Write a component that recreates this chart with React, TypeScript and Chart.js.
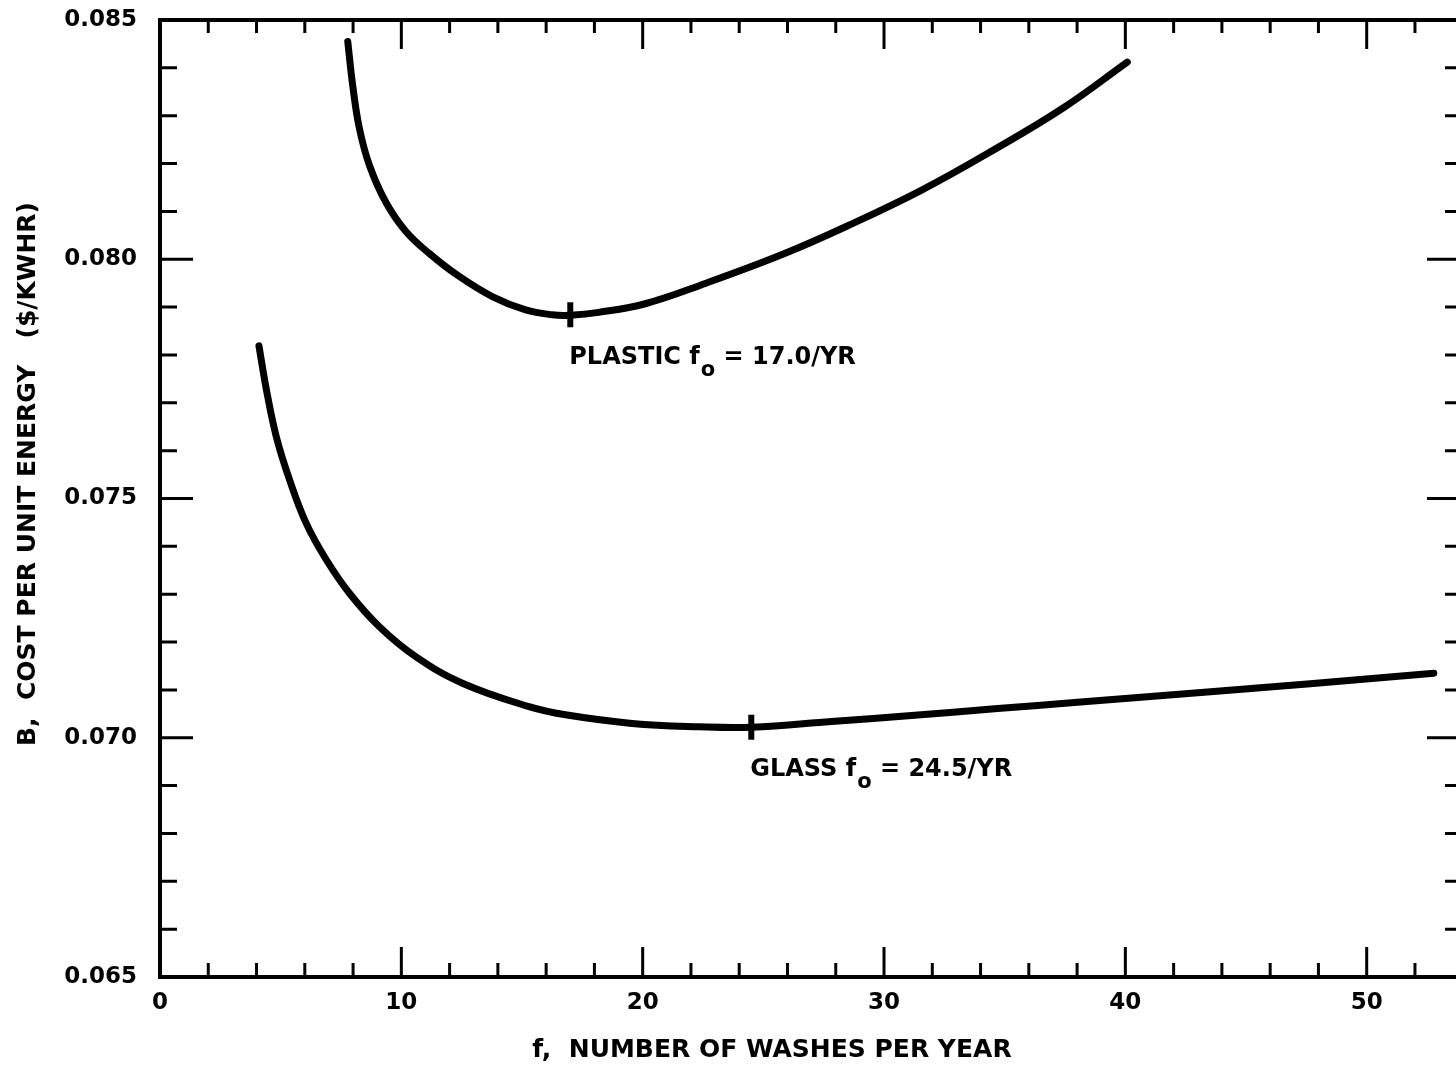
import React, { useEffect, useRef } from "react";
import { Chart, registerables } from "chart.js";

Chart.register(...registerables);

// ---- data ----
const plasticF = [7.78, 7.99, 8.26, 8.68, 9.37, 10.19, 11.16, 12.4, 13.77, 15.15, 16.25, 17.0, 18.18, 20.1, 22.62, 25.88, 28.54, 31.5, 34.46, 37.42, 40.08];
const plasticB = [0.08455, 0.08361, 0.08274, 0.08196, 0.08118, 0.08058, 0.08012, 0.07964, 0.07922, 0.07894, 0.07884, 0.07883, 0.07889, 0.07907, 0.0795, 0.08012, 0.08071, 0.08143, 0.08226, 0.08316, 0.08412];

const glassF = [4.1, 4.41, 4.82, 5.37, 6.06, 6.89, 7.85, 9.09, 10.61, 12.53, 15.29, 16.8, 19.56, 22.31, 24.5, 27.82, 31.27, 34.71, 38.02, 43.53, 47.66, 52.78];
const glassB = [0.07819, 0.07727, 0.07629, 0.07539, 0.07448, 0.07372, 0.07302, 0.07232, 0.07169, 0.07114, 0.07065, 0.07048, 0.0703, 0.07023, 0.07022, 0.07034, 0.07047, 0.07061, 0.07074, 0.07096, 0.07113, 0.07135];

const optimumNames = ["PLASTIC", "GLASS"];
const optimumF = [17.0, 24.5];
const optimumB = [0.07884, 0.07022];

const xTicks = [0, 10, 20, 30, 40, 50];
const yTicks = [0.065, 0.07, 0.075, 0.08, 0.085];
const xMin = 0;
const xMax = 53.7;
const yMin = 0.065;
const yMax = 0.085;
const xMinorStep = 2;
const yMinorStep = 0.001;

const xTitle = "f,  NUMBER OF WASHES PER YEAR";
const yTitle = "B,  COST PER UNIT ENERGY   ($/KWHR)";

const FONT = '"DejaVu Sans", "Liberation Sans", Arial, sans-serif';

const framePlugin = {
  id: "frameTicks",
  afterDatasetsDraw(chart: any) {
    const { ctx, chartArea, scales } = chart;
    const { left, right, top, bottom } = chartArea;
    const x = scales.x;
    const y = scales.y;
    ctx.save();
    ctx.strokeStyle = "#000";
    ctx.lineCap = "butt";
    ctx.lineWidth = 3;
    const nX = Math.floor((xMax - xMin) / xMinorStep + 1e-9);
    for (let i = 1; i <= nX; i++) {
      const v = xMin + i * xMinorStep;
      const px = x.getPixelForValue(v);
      const major = Math.abs(v % 10) < 1e-6;
      ctx.beginPath();
      ctx.moveTo(px, bottom);
      ctx.lineTo(px, bottom - (major ? 30 : 14));
      ctx.moveTo(px, top);
      ctx.lineTo(px, top + (major ? 29 : 13));
      ctx.stroke();
    }
    const nY = Math.round((yMax - yMin) / yMinorStep);
    for (let i = 1; i < nY; i++) {
      const v = yMin + i * yMinorStep;
      const py = y.getPixelForValue(v);
      const major = i % 5 === 0;
      ctx.beginPath();
      ctx.moveTo(left, py);
      ctx.lineTo(left + (major ? 33 : 17), py);
      ctx.moveTo(right, py);
      ctx.lineTo(right - (major ? 29 : 11), py);
      ctx.stroke();
    }
    ctx.lineWidth = 4;
    ctx.beginPath();
    ctx.moveTo(right, top);
    ctx.lineTo(left, top);
    ctx.lineTo(left, bottom);
    ctx.lineTo(right, bottom);
    ctx.stroke();
    ctx.restore();
  },
  afterDraw(chart: any) {
    const { ctx, scales, chartArea } = chart;
    const x = scales.x;
    const y = scales.y;
    ctx.save();
    ctx.fillStyle = "#000";
    ctx.font = `bold 25px ${FONT}`;
    ctx.textAlign = "center";
    ctx.textBaseline = "middle";
    ctx.fillText(xTitle, 772, chartArea.bottom + 73);
    ctx.save();
    ctx.translate(28, 474);
    ctx.rotate(-Math.PI / 2);
    ctx.fillText(yTitle, 0, 0);
    ctx.restore();
    ctx.textAlign = "left";
    ctx.textBaseline = "alphabetic";
    for (let i = 0; i < optimumNames.length; i++) {
      const x0 = x.getPixelForValue(optimumF[i]) - 1;
      const yBase = y.getPixelForValue(optimumB[i]) + 49;
      ctx.font = `bold 24px ${FONT}`;
      const main = optimumNames[i] + " f";
      ctx.fillText(main, x0, yBase);
      let cx = x0 + ctx.measureText(main).width + 1;
      ctx.font = `bold 21px ${FONT}`;
      ctx.fillText("o", cx, yBase + 12);
      cx += ctx.measureText("o").width;
      ctx.font = `bold 24px ${FONT}`;
      ctx.fillText(" = " + optimumF[i].toFixed(1) + "/YR", cx, yBase);
    }
    ctx.restore();
  },
};

const whiteBg = {
  id: "whiteBg",
  beforeDraw(chart: any) {
    const { ctx, width, height } = chart;
    ctx.save();
    ctx.fillStyle = "#fff";
    ctx.fillRect(0, 0, width, height);
    ctx.restore();
  },
};

const curveStyle = {
  showLine: true,
  borderColor: "#000",
  backgroundColor: "#000",
  borderWidth: 7,
  borderCapStyle: "round",
  borderJoinStyle: "round",
  pointRadius: 0,
  tension: 0.4,
};

export default function App() {
  const canvasRef = useRef<HTMLCanvasElement | null>(null);

  useEffect(() => {
    if (!canvasRef.current) return;
    const chart = new Chart(canvasRef.current, {
      type: "scatter",
      data: {
        datasets: [
          {
            label: "Plastic",
            data: plasticF.map((f, i) => ({ x: f, y: plasticB[i] })),
            ...curveStyle,
          } as any,
          {
            label: "Glass",
            data: glassF.map((f, i) => ({ x: f, y: glassB[i] })),
            ...curveStyle,
          } as any,
          {
            label: "Optimum",
            data: optimumF.map((f, i) => ({ x: f, y: optimumB[i] })),
            showLine: false,
            pointStyle: "line",
            rotation: 90,
            pointRadius: 12.5,
            borderColor: "#000",
            borderWidth: 6,
          } as any,
        ],
      },
      options: {
        responsive: false,
        animation: false,
        events: [],
        layout: { autoPadding: false, padding: { top: 20, left: 0, right: 0, bottom: 0 } },
        plugins: {
          legend: { display: false },
          tooltip: { enabled: false },
          title: { display: false },
        },
        scales: {
          x: {
            type: "linear",
            min: xMin,
            max: xMax,
            grid: { display: false, drawTicks: false },
            border: { display: false },
            afterBuildTicks: (scale: any) => {
              scale.ticks = xTicks.map((v) => ({ value: v }));
            },
            afterFit: (scale: any) => {
              scale.height = 91;
              scale.paddingLeft = 0;
              scale.paddingRight = 0;
              scale.paddingTop = 0;
              scale.paddingBottom = 0;
            },
            ticks: {
              autoSkip: false,
              maxRotation: 0,
              padding: 12,
              color: "#000",
              font: { family: FONT, size: 23, weight: "bold" },
              callback: (v: any) => String(v),
            },
          },
          y: {
            type: "linear",
            min: yMin,
            max: yMax,
            grid: { display: false, drawTicks: false },
            border: { display: false },
            afterBuildTicks: (scale: any) => {
              scale.ticks = yTicks.map((v) => ({ value: v }));
            },
            afterFit: (scale: any) => {
              scale.width = 160;
              scale.paddingLeft = 0;
              scale.paddingRight = 0;
              scale.paddingTop = 0;
              scale.paddingBottom = 0;
            },
            ticks: {
              autoSkip: false,
              padding: 23,
              color: "#000",
              font: { family: FONT, size: 23, weight: "bold" },
              callback: (v: any) => Number(v).toFixed(3),
            },
          },
        },
      },
      plugins: [whiteBg, framePlugin],
    } as any);
    return () => chart.destroy();
  }, []);

  return (
    <div style={{ position: "absolute", left: 0, top: 0, width: 1456, height: 1068, background: "#fff" }}>
      <canvas ref={canvasRef} width={1456} height={1068} style={{ display: "block" }} />
    </div>
  );
}
